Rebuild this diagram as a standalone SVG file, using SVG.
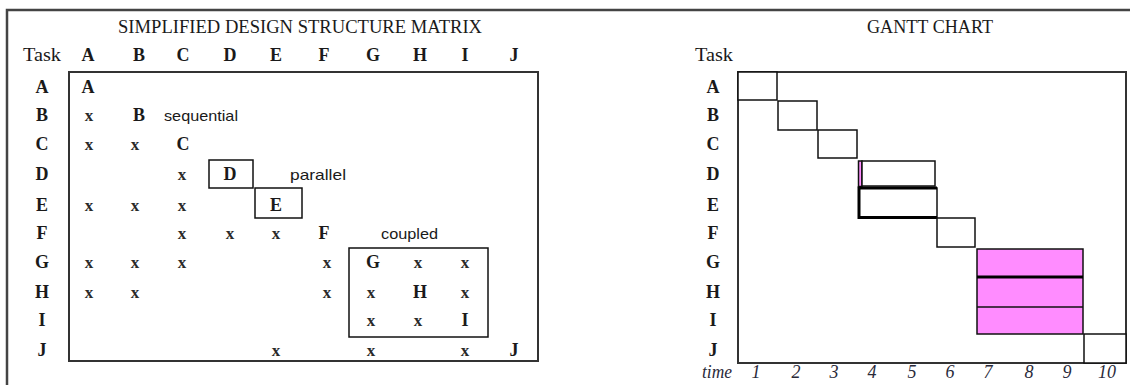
<svg xmlns="http://www.w3.org/2000/svg" width="1130" height="385" viewBox="0 0 1130 385">
  <style>
    .title { font-family: "Liberation Serif", "Times New Roman", serif; font-size: 18px; fill: #1a1a1a; }
    .hdr { font-family: "Liberation Serif", "Times New Roman", serif; font-size: 18px; font-weight: bold; fill: #1a1a1a; text-anchor: middle; }
    .task { font-family: "Liberation Serif", "Times New Roman", serif; font-size: 18px; fill: #1a1a1a; }
    .mark { font-family: "Liberation Serif", "Times New Roman", serif; font-size: 17px; font-weight: bold; fill: #2a2a2a; text-anchor: middle; }
    .note { font-family: "Liberation Sans", Arial, sans-serif; font-size: 15px; fill: #1a1a1a; }
    .axis { font-family: "Liberation Serif", "Times New Roman", serif; font-size: 18px; font-style: italic; fill: #2a2a3a; text-anchor: middle; }
    .frame { fill: none; stroke: #444; stroke-width: 2.5; }
    .panel { fill: none; stroke: #333; stroke-width: 2; }
    .box { fill: none; stroke: #111; stroke-width: 1.5; }
    .bar { fill: #fff; stroke: #111; stroke-width: 1.5; }
    .pink { fill: #ff8cff; stroke: #111; stroke-width: 1.5; }
  </style>

  <!-- outer frame -->
  <path class="frame" d="M7,390 V10 H1135"/>

  <!-- ===== Design structure matrix ===== -->
  <g id="dsm">
    <text class="title" x="118" y="33" textLength="364" lengthAdjust="spacingAndGlyphs">SIMPLIFIED DESIGN STRUCTURE MATRIX</text>
    <text class="task" x="23" y="61" textLength="38" lengthAdjust="spacingAndGlyphs">Task</text>
    <g id="dsm-columns">
      <text class="hdr" x="88" y="61">A</text>
      <text class="hdr" x="139" y="61">B</text>
      <text class="hdr" x="183" y="61">C</text>
      <text class="hdr" x="230" y="61">D</text>
      <text class="hdr" x="276" y="61">E</text>
      <text class="hdr" x="324" y="61">F</text>
      <text class="hdr" x="373" y="61">G</text>
      <text class="hdr" x="420" y="61">H</text>
      <text class="hdr" x="465" y="61">I</text>
      <text class="hdr" x="514" y="61">J</text>
    </g>
    <g id="dsm-rows">
      <text class="hdr" x="42" y="93">A</text>
      <text class="hdr" x="42" y="121">B</text>
      <text class="hdr" x="42" y="150">C</text>
      <text class="hdr" x="42" y="180">D</text>
      <text class="hdr" x="42" y="211">E</text>
      <text class="hdr" x="42" y="239">F</text>
      <text class="hdr" x="42" y="268">G</text>
      <text class="hdr" x="42" y="298">H</text>
      <text class="hdr" x="42" y="326">I</text>
      <text class="hdr" x="42" y="356">J</text>
    </g>

    <rect id="matrix" class="panel" x="69" y="72" width="469" height="289"/>
    <rect id="box-D" class="box" x="209" y="160" width="44" height="28"/>
    <rect id="box-E" class="box" x="255" y="188" width="47" height="30"/>
    <rect id="box-coupled" class="box" x="349" y="248" width="139" height="89"/>

    <g id="diagonal">
      <text class="hdr" x="88" y="93">A</text>
      <text class="hdr" x="139" y="121">B</text>
      <text class="hdr" x="183" y="150">C</text>
      <text class="hdr" x="230" y="180">D</text>
      <text class="hdr" x="276" y="211">E</text>
      <text class="hdr" x="324" y="239">F</text>
      <text class="hdr" x="373" y="268">G</text>
      <text class="hdr" x="420" y="298">H</text>
      <text class="hdr" x="465" y="326">I</text>
      <text class="hdr" x="514" y="356">J</text>
    </g>

    <g id="marks">
      <!-- row B -->
      <text class="mark" x="89" y="121">x</text>
      <!-- row C -->
      <text class="mark" x="89" y="150">x</text>
      <text class="mark" x="135" y="150">x</text>
      <!-- row D -->
      <text class="mark" x="182" y="180">x</text>
      <!-- row E -->
      <text class="mark" x="89" y="211">x</text>
      <text class="mark" x="135" y="211">x</text>
      <text class="mark" x="182" y="211">x</text>
      <!-- row F -->
      <text class="mark" x="182" y="239">x</text>
      <text class="mark" x="230" y="239">x</text>
      <text class="mark" x="276" y="239">x</text>
      <!-- row G -->
      <text class="mark" x="89" y="268">x</text>
      <text class="mark" x="135" y="268">x</text>
      <text class="mark" x="182" y="268">x</text>
      <text class="mark" x="327" y="268">x</text>
      <text class="mark" x="418" y="268">x</text>
      <text class="mark" x="465" y="268">x</text>
      <!-- row H -->
      <text class="mark" x="89" y="298">x</text>
      <text class="mark" x="135" y="298">x</text>
      <text class="mark" x="327" y="298">x</text>
      <text class="mark" x="371" y="298">x</text>
      <text class="mark" x="465" y="298">x</text>
      <!-- row I -->
      <text class="mark" x="371" y="326">x</text>
      <text class="mark" x="418" y="326">x</text>
      <!-- row J -->
      <text class="mark" x="276" y="356">x</text>
      <text class="mark" x="371" y="356">x</text>
      <text class="mark" x="465" y="356">x</text>
    </g>

    <g id="notes">
      <text class="note" x="164" y="121" textLength="74" lengthAdjust="spacingAndGlyphs">sequential</text>
      <text class="note" x="290" y="180" textLength="56" lengthAdjust="spacingAndGlyphs">parallel</text>
      <text class="note" x="381" y="239" textLength="57" lengthAdjust="spacingAndGlyphs">coupled</text>
    </g>
  </g>

  <!-- ===== Gantt chart ===== -->
  <g id="gantt">
    <text class="title" x="867" y="33" textLength="126" lengthAdjust="spacingAndGlyphs">GANTT CHART</text>
    <text class="task" x="695" y="61" textLength="38" lengthAdjust="spacingAndGlyphs">Task</text>
    <g id="gantt-rows">
      <text class="hdr" x="713" y="93">A</text>
      <text class="hdr" x="713" y="121">B</text>
      <text class="hdr" x="713" y="150">C</text>
      <text class="hdr" x="713" y="180">D</text>
      <text class="hdr" x="713" y="211">E</text>
      <text class="hdr" x="713" y="239">F</text>
      <text class="hdr" x="713" y="268">G</text>
      <text class="hdr" x="713" y="298">H</text>
      <text class="hdr" x="713" y="326">I</text>
      <text class="hdr" x="713" y="356">J</text>
    </g>

    <rect id="chart" class="panel" x="738" y="72" width="388" height="291"/>

    <g id="bars">
      <rect id="bar-A" class="bar" x="738" y="72" width="39" height="28"/>
      <rect id="bar-B" class="bar" x="778" y="101" width="39" height="29"/>
      <rect id="bar-C" class="bar" x="818" y="130" width="39" height="28"/>
      <rect id="bar-D-lead" class="pink" x="858.5" y="161" width="3.5" height="25.5"/>
      <rect id="bar-D" class="bar" x="862" y="161" width="73" height="25"/>
      <g id="bar-E">
        <rect class="bar" x="859" y="188" width="78" height="29.5"/>
        <path d="M859,186.5 V217.5 H937 M857.5,188 H937" fill="none" stroke="#000" stroke-width="3"/>
      </g>
      <rect id="bar-F" class="bar" x="937" y="218" width="38" height="29"/>
      <g id="bar-GHI">
        <rect class="pink" x="977" y="249" width="106" height="85"/>
        <line x1="977" y1="277" x2="1083" y2="277" stroke="#000" stroke-width="3"/>
        <line x1="977" y1="307" x2="1083" y2="307" stroke="#111" stroke-width="1.5"/>
      </g>
      <rect id="bar-J" class="bar" x="1084" y="334" width="42" height="29"/>
    </g>

    <g id="time-axis">
      <text class="axis" x="717" y="378" textLength="30" lengthAdjust="spacingAndGlyphs">time</text>
      <text class="axis" x="756" y="378">1</text>
      <text class="axis" x="796" y="378">2</text>
      <text class="axis" x="834" y="378">3</text>
      <text class="axis" x="872" y="378">4</text>
      <text class="axis" x="912" y="378">5</text>
      <text class="axis" x="950" y="378">6</text>
      <text class="axis" x="988" y="378">7</text>
      <text class="axis" x="1029" y="378">8</text>
      <text class="axis" x="1067" y="378">9</text>
      <text class="axis" x="1107" y="378">10</text>
    </g>
  </g>
</svg>
